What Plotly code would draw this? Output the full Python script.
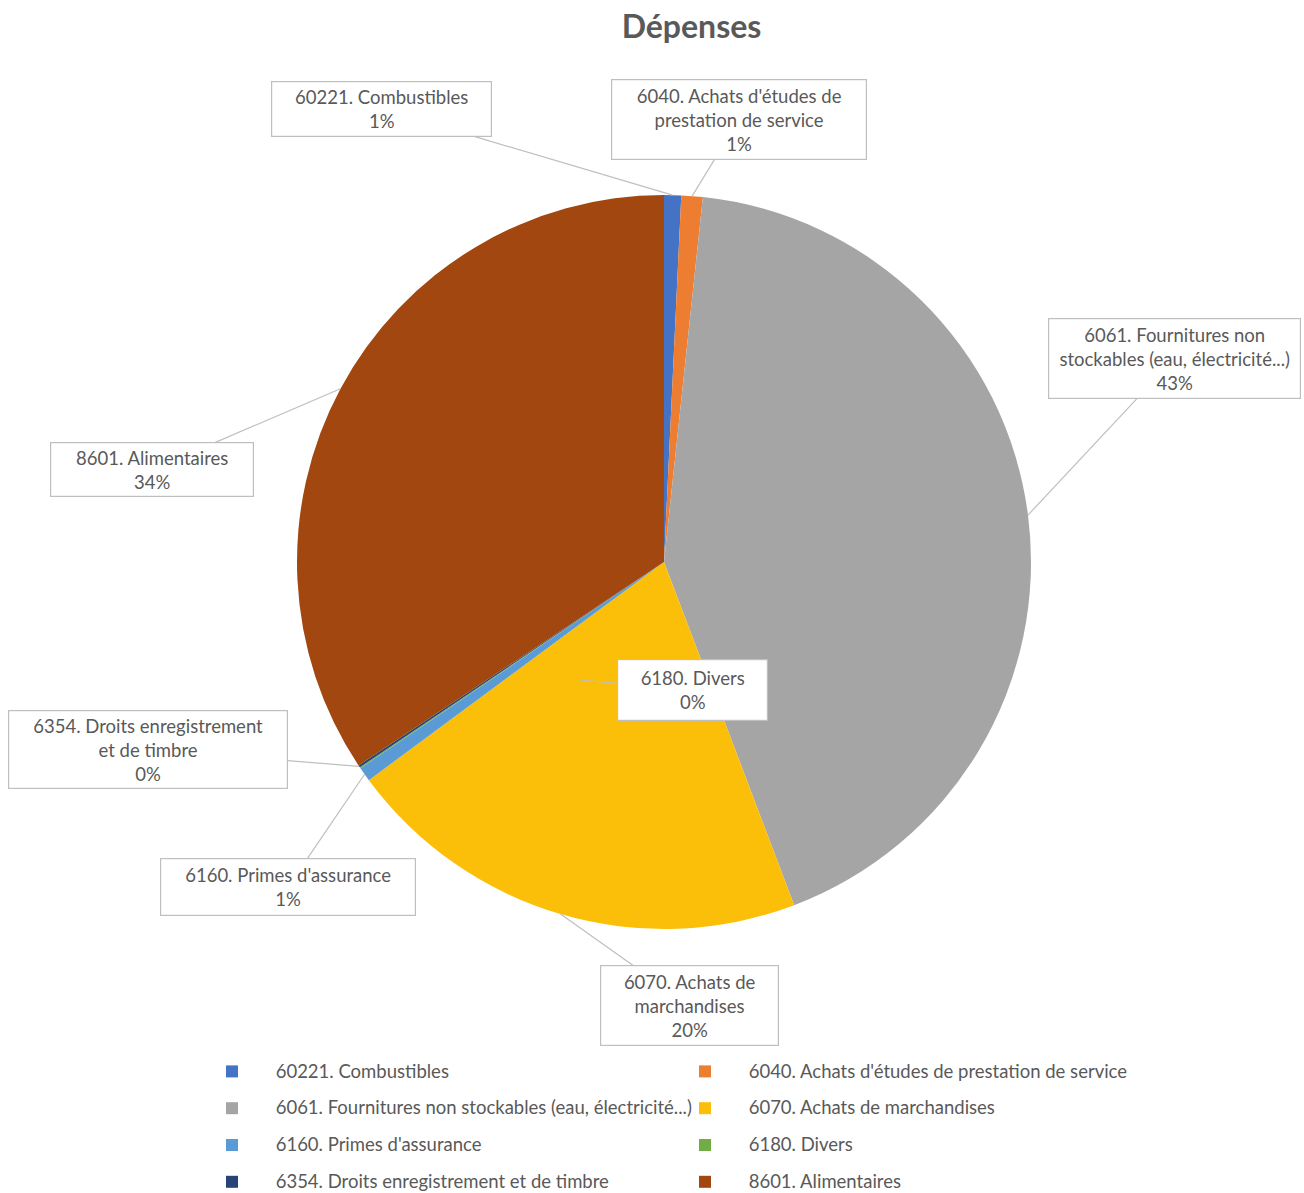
import math
import plotly.graph_objects as go

labels = [
    "60221. Combustibles",
    "6040. Achats d'études de prestation de service",
    "6061. Fournitures non stockables (eau, électricité...)",
    "6070. Achats de marchandises",
    "6160. Primes d'assurance",
    "6180. Divers",
    "6354. Droits enregistrement et de timbre",
    "8601. Alimentaires",
]
values = [0.75, 0.94, 42.54, 20.64, 0.63, 0.05, 0.10, 34.35]
colors = ["#4472C4", "#ED7D31", "#A5A5A5", "#FBBF0A", "#5B9BD5", "#70AD47", "#264478", "#A2470F"]
callout_text = [
    "60221. Combustibles<br>1%",
    "6040. Achats d'études de<br>prestation de service<br>1%",
    "6061. Fournitures non<br>stockables (eau, électricité...)<br>43%",
    "6070. Achats de<br>marchandises<br>20%",
    "6160. Primes d'assurance<br>1%",
    "6180. Divers<br>0%",
    "6354. Droits enregistrement<br>et de timbre<br>0%",
    "8601. Alimentaires<br>34%",
]

W, H = 1304, 1193
CX, CY, R = 664, 562, 367
TXT = "#595959"
FONT = "Lato"
FS = 18.5

# label box layout (center px, width, height)
boxes = [
    (381.5, 109, 219, 54),
    (739, 119.5, 254, 79),
    (1174.5, 358.5, 251, 79),
    (689.5, 1005.5, 177, 79),
    (288, 887, 254, 56),
    (692.5, 690, 149, 60),
    (148, 749.5, 278, 77),
    (152, 469.5, 202, 53),
]

pad = "\u00a0" * 5
legend_labels = [
    f'<span style="font-size:{FS}px;baseline-shift:4px">{pad}{l}</span>' for l in labels
]

fig = go.Figure()
fig.add_trace(go.Pie(
    labels=legend_labels,
    values=values,
    sort=False,
    direction="clockwise",
    rotation=0,
    marker=dict(colors=colors, line=dict(width=0)),
    textinfo="none",
    hovertemplate="%{percent}<extra></extra>",
    domain=dict(x=[(CX - R) / W, (CX + R) / W], y=[1 - (CY + R) / H, 1 - (CY - R) / H]),
))

total = sum(values)
cum = 0
annotations = []
for i, v in enumerate(values):
    mid = (cum + v / 2) / total
    cum += v
    ang = 2 * math.pi * mid
    if i == 5:  # 6180 label points inside the pie
        px, py = 580, 680
    else:
        px = CX + R * math.sin(ang)
        py = CY - R * math.cos(ang)
    bx, by, bw, bh = boxes[i]
    annotations.append(dict(
        x=px / W, y=1 - py / H, xref="paper", yref="paper",
        ax=bx - px, ay=by - py, axref="pixel", ayref="pixel",
        text=callout_text[i], showarrow=True, arrowhead=0, arrowwidth=1.2,
        arrowcolor="#BFBFBF", standoff=0, startstandoff=0,
        bordercolor="#BFBFBF", borderwidth=1.2, borderpad=0, bgcolor="white",
        width=bw, height=bh, align="center",
        font=dict(family=FONT, size=FS, color=TXT),
    ))

fig.update_layout(
    width=W, height=H,
    margin=dict(l=0, r=0, t=0, b=0, autoexpand=False),
    paper_bgcolor="white", plot_bgcolor="white",
    title=dict(text="<b>Dépenses</b>", x=691.5 / W, xanchor="center", y=1 - 27 / H, yanchor="middle",
               font=dict(family=FONT, size=32, color=TXT)),
    annotations=annotations,
    showlegend=True,
    legend=dict(
        orientation="h", x=212 / W, xanchor="left", y=1 - 1048 / H, yanchor="top",
        font=dict(family=FONT, size=26, color=TXT),
        entrywidth=428, entrywidthmode="pixels", traceorder="normal",
    ),
)

fig.write_html("out.html", config={"displayModeBar": False},
               post_script="document.body.style.margin='0';")
